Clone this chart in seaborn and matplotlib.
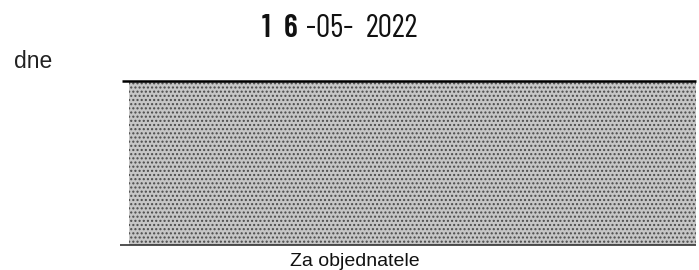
import matplotlib
matplotlib.use('Agg')
import matplotlib.pyplot as plt
import seaborn as sns
from matplotlib.patches import Rectangle

# texty z dokumentu
datum = ['1', '6', '-05-', '2022']
label_dne = 'dne'
label_podpis = 'Za objednatele'

sns.set_theme(style='white')
plt.rcParams['font.family'] = ['Liberation Sans', 'DejaVu Sans']

fig = plt.figure(figsize=(6.99, 2.70), dpi=100)
ax = fig.add_axes([0, 0, 1, 1])
ax.set_xlim(0, 699)
ax.set_ylim(270, 0)
ax.axis('off')

# razitko s datem (uzke pismo)
xs = [262, 284, 306, 366]
for x, t in zip(xs, datum):
    ax.text(x, 37, t, fontsize=23,
            fontweight='semibold' if t in ('1', '6') else 'normal',
            family=['Barlow Condensed', 'DejaVu Sans'],
            va='baseline', ha='left', color='#111111')

ax.text(14, 68, label_dne, fontsize=16.5, va='baseline', ha='left', color='#222222')

# zacernena oblast podpisu
ax.add_patch(Rectangle((129, 82), 567, 163, facecolor='#c6c6c6',
                       edgecolor='#4a4a4a', hatch='....', linewidth=0))
ax.hlines(81, 122, 696, color='black', linewidth=1.8)
ax.hlines(245, 120, 696, color='#333333', linewidth=1.2)

ax.text(355, 266, label_podpis, fontsize=14, ha='center', va='baseline',
        color='#111111')

fig.savefig('out.png', dpi=100)
